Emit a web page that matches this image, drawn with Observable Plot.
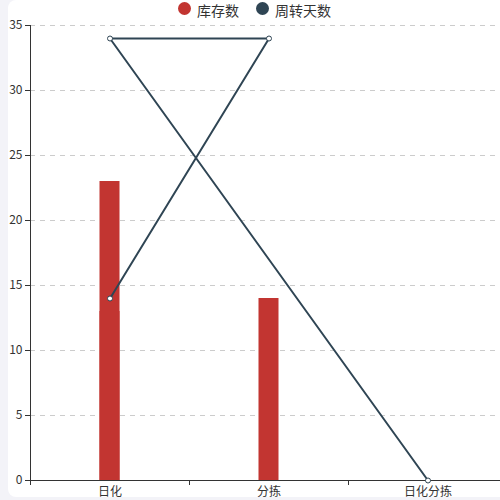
<!DOCTYPE html>
<html>
<head>
<meta charset="utf-8">
<script src="https://cdn.jsdelivr.net/npm/d3@7"></script>
<script src="https://cdn.jsdelivr.net/npm/@observablehq/plot@0.6"></script>
<style>
  html, body { margin: 0; padding: 0; background: #f3f3f8; overflow: hidden; }
  #wrap { position: relative; width: 500px; height: 500px; }
  #card { position: absolute; left: 8px; top: 0; width: 510px; height: 497px; background: #fff; border-radius: 8px; }
  #chart { position: absolute; left: 0; top: 0; }
  #legend { position: absolute; top: 0; left: 0; width: 500px; height: 20px; font-family: "Noto Sans CJK SC", sans-serif; font-size: 14px; color: #333; }
  .item { position: absolute; top: 0; display: flex; align-items: center; line-height: 20px; height: 20px; }
  .sw { width: 13px; height: 13px; border-radius: 50%; margin-right: 6px; position: relative; top: -2px; }
</style>
</head>
<body>
<div id="wrap">
  <div id="card"></div>
  <div id="chart"></div>
  <div id="legend"></div>
</div>
<script>
const categories = ["日化", "分拣", "日化分拣"];
const barCats = ["日化", "分拣", "日化", "日化分拣"];
const stockValues = [23, 14, 13, 0];
const lineCats = ["日化", "分拣", "日化", "日化分拣"];
const turnoverValues = [14, 34, 34, 0];
const yTicks = [0, 5, 10, 15, 20, 25, 30, 35];
const seriesNames = ["库存数", "周转天数"];
const seriesColors = ["#c23531", "#2f4554"];

const barData = barCats.map((c, i) => ({cat: c, v: stockValues[i]}));
const lineData = lineCats.map((c, i) => ({cat: c, v: turnoverValues[i]}));

const xRange = [30, 507];
const half = (xRange[1] - xRange[0]) / categories.length / 2;

const chart = Plot.plot({
  width: 500,
  height: 500,
  marginLeft: 30,
  marginRight: 0,
  marginTop: 25,
  marginBottom: 20,
  style: {background: "transparent", fontFamily: "'Noto Sans CJK SC', sans-serif", fontSize: "12px", color: "#333"},
  x: {domain: categories, range: xRange, padding: 0, axis: null},
  y: {domain: [0, 35], axis: null},
  marks: [
    Plot.gridY(yTicks.filter(t => t > 0), {stroke: "#ccc", strokeOpacity: 1, strokeDasharray: "5,5"}),
    Plot.axisY(yTicks, {tickSize: 5, tickPadding: 3, stroke: "#333", fill: "#333", label: null, fontSize: 12}),
    Plot.frame({anchor: "left", stroke: "#333"}),
    Plot.barY(barData, {x: "cat", y1: 0, y2: "v", fill: seriesColors[0], insetLeft: half - 10, insetRight: half - 10}),
    Plot.ruleY([0], {stroke: "#333"}),
    Plot.axisX({tickSize: 5, stroke: "#333", tickFormat: () => "", dx: -half, label: null}),
    Plot.axisX({tickSize: 0, tickPadding: 7, fill: "#333", label: null, fontSize: 12}),
    Plot.line(lineData, {x: "cat", y: "v", stroke: seriesColors[1], strokeWidth: 2}),
    Plot.dot(lineData, {x: "cat", y: "v", r: 2.5, fill: "white", stroke: seriesColors[1], strokeWidth: 1})
  ]
});
document.getElementById("chart").appendChild(chart);

const legend = document.getElementById("legend");
const lefts = [178, 256];
seriesNames.forEach((n, i) => {
  const d = document.createElement("div");
  d.className = "item";
  d.style.left = lefts[i] + "px";
  d.innerHTML = `<span class="sw" style="background:${seriesColors[i]}"></span><span>${n}</span>`;
  legend.appendChild(d);
});
</script>
</body>
</html>
